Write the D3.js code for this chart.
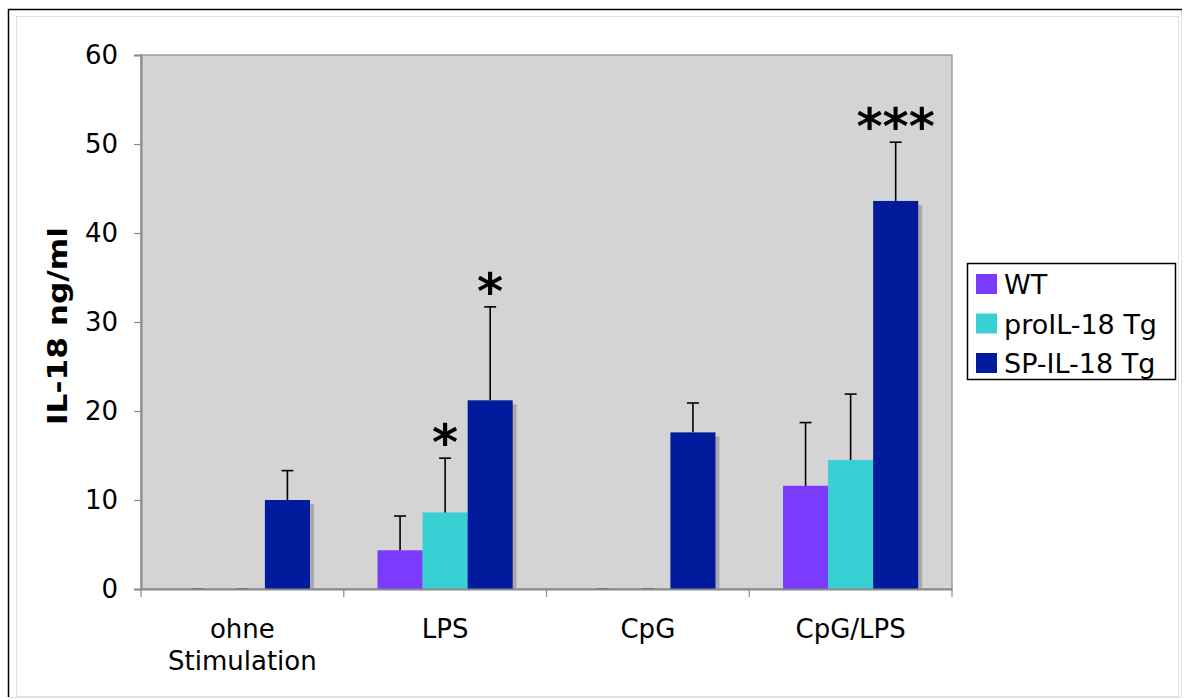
<!DOCTYPE html>
<html>
<head>
<meta charset="utf-8">
<script src="https://cdn.jsdelivr.net/npm/d3@7"></script>
<style>
  html, body { margin: 0; padding: 0; background: #fff; }
  svg { display: block; font-family: "DejaVu Sans", Verdana, sans-serif; }
</style>
</head>
<body>
<svg id="chart" width="1186" height="700"></svg>
<script>
// IL-18 release per stimulation and genotype
const categories = [["ohne", "Stimulation"], ["LPS"], ["CpG"], ["CpG/LPS"]];
const categoryKeys = ["ohne Stimulation", "LPS", "CpG", "CpG/LPS"];
const seriesNames = ["WT", "proIL-18 Tg", "SP-IL-18 Tg"];
const seriesColors = ["#7b3bfd", "#38d0d4", "#021a9c"];

// mean values (ng/ml) per series, in category order
const wtValues  = [0, 4.35, 0, 11.6];
const proValues = [0, 8.6, 0, 14.5];
const spValues  = [10.0, 21.2, 17.6, 43.6];

// upper error-bar limits (mean + SD)
const wtUpper  = [0, 8.2, 0, 18.7];
const proUpper = [0, 14.7, 0, 21.9];
const spUpper  = [13.3, 31.7, 20.9, 50.2];

// significance markers: [category index, series index, label]
const markers = [[1, 1, "*"], [1, 2, "*"], [3, 2, "***"]];

const yTicks = [0, 10, 20, 30, 40, 50, 60];

const svg = d3.select("#chart");

// outer frame
svg.append("rect").attr("x", 8.5).attr("y", 9.5).attr("width", 1173).attr("height", 688)
  .attr("fill", "#fff").attr("stroke", "#e2e2e2").attr("stroke-width", 1);
svg.append("path").attr("d", "M8.5,697 V9.5 H1182")
  .attr("fill", "none").attr("stroke", "#000").attr("stroke-width", 1.5);
svg.append("rect").attr("x", 16.5).attr("y", 16.5).attr("width", 1162).attr("height", 680)
  .attr("fill", "none").attr("stroke", "#e0e0e0").attr("stroke-width", 1);

const plot = { left: 141, right: 952, top: 55, bottom: 589 };

const x0 = d3.scaleBand().domain(categoryKeys).range([plot.left, plot.right]).paddingInner(0).paddingOuter(0);
// gap width 150%: group of 3 bars centred in each band
const barW = x0.bandwidth() / 4.5;
const groupOffset = barW * 0.75;
const y = d3.scaleLinear().domain([0, 60]).range([plot.bottom, plot.top]);

// plot background
svg.append("rect").attr("x", plot.left).attr("y", plot.top)
  .attr("width", plot.right - plot.left).attr("height", plot.bottom - plot.top)
  .attr("fill", "#d4d4d4").attr("stroke", "#8a8a8a").attr("stroke-width", 1.2);

const values = [wtValues, proValues, spValues];
const uppers = [wtUpper, proUpper, spUpper];

const data = [];
categoryKeys.forEach((c, ci) => {
  seriesNames.forEach((s, si) => {
    data.push({ c, ci, si, v: values[si][ci], up: uppers[si][ci] });
  });
});
const barX = d => x0(d.c) + groupOffset + d.si * barW;

// bar shadows
svg.append("g").selectAll("rect").data(data.filter(d => d.v > 0)).join("rect")
  .attr("x", d => barX(d) + 4)
  .attr("y", d => y(d.v) + 4)
  .attr("width", barW)
  .attr("height", d => y(0) - y(d.v) - 4)
  .attr("fill", "#a9a9a9");

// bars
svg.append("g").selectAll("rect").data(data.filter(d => d.v > 0)).join("rect")
  .attr("x", d => barX(d))
  .attr("y", d => y(d.v))
  .attr("width", barW)
  .attr("height", d => y(0) - y(d.v))
  .attr("fill", d => seriesColors[d.si]);

// error bars (upper only)
const eb = svg.append("g").attr("stroke", "#000").attr("stroke-width", 1.6);
data.forEach(d => {
  const cx = barX(d) + barW / 2;
  if (d.up > d.v) {
    eb.append("line").attr("x1", cx).attr("x2", cx).attr("y1", y(d.v)).attr("y2", y(d.up));
  }
  eb.append("line").attr("x1", cx - 6).attr("x2", cx + 6).attr("y1", y(d.up)).attr("y2", y(d.up))
    .attr("stroke", d.up > 0 ? "#000" : "#555");
});

// y axis
const yAxis = d3.axisLeft(y).tickValues(yTicks).tickSize(7).tickPadding(16);
const gy = svg.append("g").attr("transform", `translate(${plot.left},0)`).call(yAxis);
gy.select(".domain").attr("stroke", "#8a8a8a").attr("stroke-width", 2);
gy.selectAll(".tick line").attr("stroke", "#8a8a8a").attr("stroke-width", 1.2);
gy.selectAll(".tick text").attr("font-size", 26).attr("fill", "#000")
  .attr("font-family", "DejaVu Sans, Verdana, sans-serif");

// x axis
const xAxis = d3.axisBottom(x0).tickSize(0).tickFormat("");
const gx = svg.append("g").attr("transform", `translate(0,${plot.bottom})`).call(xAxis);
gx.select(".domain").attr("stroke", "#8a8a8a").attr("stroke-width", 2);
gx.selectAll(".tick").remove();
const bounds = categoryKeys.map(c => x0(c)).concat([plot.right]);
svg.append("g").selectAll("line").data(bounds).join("line")
  .attr("x1", d => d).attr("x2", d => d)
  .attr("y1", plot.bottom).attr("y2", plot.bottom + 8)
  .attr("stroke", "#8a8a8a").attr("stroke-width", 1.2);

// category labels
const xl = svg.append("g").attr("font-size", 26).attr("text-anchor", "middle").attr("fill", "#000");
categories.forEach((lines, i) => {
  const cx = x0(categoryKeys[i]) + x0.bandwidth() / 2;
  const t = xl.append("text").attr("x", cx).attr("y", 638);
  lines.forEach((ln, k) => t.append("tspan").attr("x", cx)
    .attr("dy", k === 0 ? 0 : 32).text(ln));
});

// y axis title
svg.append("text").attr("transform", `translate(67,${(plot.top + plot.bottom) / 2 + 4}) rotate(-90)`)
  .attr("text-anchor", "middle").attr("font-size", 26).attr("font-weight", "bold")
  .attr("textLength", 198).attr("lengthAdjust", "spacingAndGlyphs")
  .text("IL-18 ng/ml");

// significance markers
svg.append("g").selectAll("text").data(markers).join("text")
  .attr("x", m => barX({ c: categoryKeys[m[0]], si: m[1] }) + barW / 2)
  .attr("y", m => y(uppers[m[1]][m[0]]) + 2)
  .attr("text-anchor", "middle").attr("font-size", 50).attr("font-weight", "bold")
  .text(m => m[2]);

// legend
const lg = svg.append("g");
lg.append("rect").attr("x", 967.5).attr("y", 263.5).attr("width", 208).attr("height", 116)
  .attr("fill", "#fff").attr("stroke", "#000").attr("stroke-width", 1.5);
seriesNames.forEach((s, i) => {
  const cy = 284 + i * 39.5;
  lg.append("rect").attr("x", 976).attr("y", cy - 10).attr("width", 21).attr("height", 20)
    .attr("fill", seriesColors[i]);
  lg.append("text").attr("x", 1004).attr("y", cy + 10).attr("font-size", 27).text(s);
});
</script>
</body>
</html>
